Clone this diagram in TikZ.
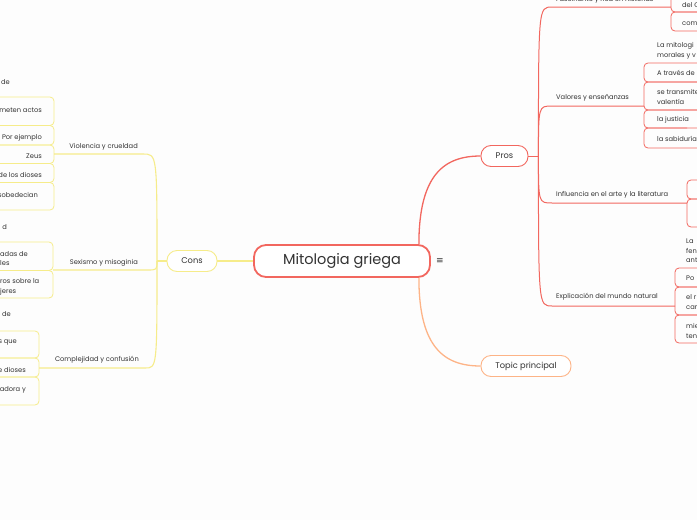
\documentclass[tikz,border=0pt]{standalone}
\usepackage{fontspec}
\setmainfont{Poppins}
\newfontfamily\symfont{DejaVu Sans}
\usepackage{tikz}
\usetikzlibrary{positioning}
\usepackage{xcolor}
\definecolor{pros}{HTML}{F2675F}
\definecolor{cons}{HTML}{F6EC8A}
\definecolor{topic}{HTML}{FDB487}
\definecolor{ink}{HTML}{333333}
\definecolor{paper}{HTML}{FDFDFD}

\begin{document}
\begin{tikzpicture}[x=1pt, y=-1pt,
  every node/.style={text=ink, inner sep=0pt},
  leaftext/.style={font=\fontsize{6.7}{9.5}\selectfont, anchor=west, align=left},
  twiglabel/.style={font=\fontsize{6.7}{8}\selectfont},
  catbox/.style={draw, fill=white, rounded corners=10pt, line width=0.9pt,
    minimum height=21pt, font=\fontsize{8.3}{9}\selectfont},
  rootbox/.style={draw=pros, fill=white, rounded corners=12pt, line width=1.8pt,
    minimum width=176pt, minimum height=32pt, font=\fontsize{14.5}{16}\selectfont},
  redline/.style={draw=pros, line width=1pt},
  yelline/.style={draw=cons, line width=1.1pt},
  redleaf/.style={draw=pros, line width=0.8pt, rounded corners=4pt},
  yelleaf/.style={draw=cons, line width=0.8pt, rounded corners=4pt}
]
  % Frame
  \fill[paper] (0,0) rectangle (697,520);
  \useasboundingbox (0,0) rectangle (697,520);
  \clip (0,0) rectangle (697,520);

  % Root and main topics
  \node[rootbox] (root) at (342,261) {Mitologia griega};
  \node[right=5pt of root, font=\symfont\fontsize{9}{10}\selectfont] (menu) {≡};
  \node[catbox, draw=cons, minimum width=50pt] (cons) at (192,261) {Cons};
  \node[catbox, draw=pros, minimum width=47pt] (pros) at (504.5,156) {Pros};
  \node[catbox, draw=topic, minimum width=90pt] (topic) at (526,366) {Topic principal};

  \draw[yelline] (root.west) -- (cons.east);
  \draw[redline, line width=1.3pt] ([xshift=-12pt]root.north east)
    .. controls +(0,-70) and +(-36,0) .. (pros.west);
  \draw[draw=topic, line width=1.3pt] ([xshift=-12pt]root.south east)
    .. controls +(0,70) and +(-36,0) .. (topic.west);

  % Pros branches
  \coordinate (pj) at ([xshift=10pt]pros.east);
  \draw[redline] (pros.east) -- (pj);

  \coordinate (fasc) at (552,7);   \coordinate (fascend) at (671,7);
  \coordinate (valo) at (552,106); \coordinate (valoend) at (644,106);
  \coordinate (infl) at (552,203); \coordinate (inflend) at (687,203);
  \coordinate (expl) at (552,306); \coordinate (explend) at (675,306);
  \draw[redline] (pj) .. controls (pj |- fasc) and (pj |- fasc) .. (fasc) -- (fascend);
  \draw[redline] (pj) .. controls (pj |- valo) and (pj |- valo) .. (valo) -- (valoend);
  \draw[redline] (pj) .. controls (pj |- infl) and (pj |- infl) .. (infl) -- (inflend);
  \draw[redline] (pj) .. controls (pj |- expl) and (pj |- expl) .. (expl) -- (explend);

  \node[twiglabel, anchor=west] (fasclbl) at (556,0.3) {Fascinante y rica en historias};
  \node[twiglabel, anchor=west] (valolbl) at (556,98) {Valores y enseñanzas};
  \node[twiglabel, anchor=west] (infllbl) at (556,195) {Influencia en el arte y la literatura};
  \node[twiglabel, anchor=west] (expllbl) at (556,297) {Explicación del mundo natural};

  % Pros leaves
  \draw[redleaf] (671,-20) rectangle (720,12);
  \draw[redleaf] (671,12) rectangle (720,31);
  \node[leaftext] (delc) at (682,5) {del C};
  \node[leaftext] (com) at (682,24) {com};

  \node[leaftext] (lamito) at (657,51) {La mitologi\\morales y v};
  \draw[redleaf] (644,63) rectangle (720,82);
  \draw[redleaf] (644,82) rectangle (720,110);
  \draw[redleaf] (720,110) -- (644,110) -- (644,128) -- (687,128);
  \draw[redleaf] (644,128) rectangle (720,148);
  \node[leaftext] (traves) at (657,73) {A través de};
  \node[leaftext] (transm) at (657,97) {se transmite\\valentía};
  \node[leaftext] (justi) at (657,120) {la justicia};
  \node[leaftext] (sabid) at (657,139) {la sabiduría};

  \draw[redleaf] (687,180) rectangle (720,199);
  \draw[redleaf] (687,199) rectangle (720,227);

  \node[leaftext] (lafen) at (686,251) {La\\fen\\ant};

  \draw[redleaf] (675,268) rectangle (720,287);
  \draw[redleaf] (675,287) rectangle (720,315);
  \draw[redleaf] (675,315) rectangle (720,343);
  \node[leaftext] (po) at (686,278) {Po};
  \node[leaftext] (elr) at (686,302) {el r\\car};
  \node[leaftext] (mie) at (686,331) {mie\\ten};

  % Cons branches
  \coordinate (cj) at (157,261);
  \draw[yelline] (cons.west) -- (cj);

  \coordinate (viol) at (143,154); \coordinate (violend) at (54,154);
  \coordinate (sexi) at (147,270); \coordinate (sexiend) at (53,270);
  \coordinate (comp) at (145,368); \coordinate (compend) at (39,368);
  \draw[yelline] (cj) .. controls (cj |- viol) and (cj |- viol) .. (viol) -- (violend);
  \draw[yelline] (cj) .. controls (cj |- sexi) and (cj |- sexi) .. (sexi) -- (sexiend);
  \draw[yelline] (cj) .. controls (cj |- comp) and (cj |- comp) .. (comp) -- (compend);

  \node[twiglabel, anchor=east] (viollbl) at (138,147) {Violencia y crueldad};
  \node[twiglabel, anchor=east] (sexilbl) at (138,263) {Sexismo y misoginia};
  \node[twiglabel, anchor=east] (complbl) at (139,360) {Complejidad y confusión};

  % Cons leaves
  \node[leaftext, anchor=east] (de1) at (10,82) {de};
  \draw[yelleaf] (-30,97) rectangle (54,125.5);
  \draw[yelleaf] (-30,125.5) rectangle (54,145);
  \draw[yelleaf] (-30,145) -- (54,145) -- (54,163.5) -- (20,163.5);
  \draw[yelleaf] (-30,163.5) rectangle (54,182.5);
  \draw[yelleaf] (-30,182.5) rectangle (54,210);
  \node[leaftext, anchor=east] (meten) at (42,110) {meten actos};
  \node[leaftext, anchor=east] (ejemplo) at (42,138) {Por ejemplo};
  \node[leaftext, anchor=east] (zeus) at (42,156) {Zeus};
  \node[leaftext, anchor=east] (dioses) at (42,175) {de los dioses};
  \node[leaftext, anchor=east] (desob) at (38,195) {sobedecian};

  \node[leaftext, anchor=east] (d1) at (7,227) {d};
  \draw[yelleaf] (-30,242) rectangle (53,270.5);
  \draw[yelleaf] (-30,270.5) rectangle (53,298);
  \node[leaftext] (adas) at (0,258.5) {adas de\\les};
  \node[leaftext] (ros) at (0,287) {ros sobre la\\jeres};

  \node[leaftext, anchor=east] (de2) at (11,314) {de};
  \draw[yelleaf] (-30,331) rectangle (39,358);
  \draw[yelleaf] (-30,358) rectangle (39,377);
  \draw[yelleaf] (-30,377) rectangle (39,405);
  \node[leaftext, anchor=east] (sque) at (17,342) {s que};
  \node[leaftext, anchor=east] (edios) at (26,370) {e dioses};
  \node[leaftext, anchor=east] (adora) at (26,390) {adora y};
\end{tikzpicture}
\end{document}
